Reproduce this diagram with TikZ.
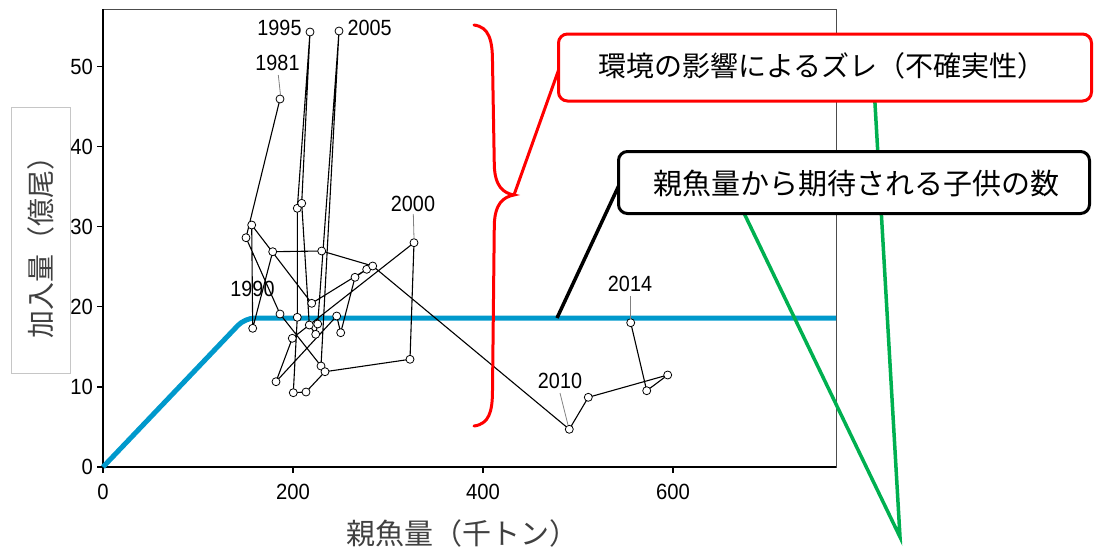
\documentclass[tikz,border=0pt]{standalone}
\usepackage{fontspec}
\setmainfont{Liberation Sans}
\newfontfamily\jpfont{Noto Sans CJK JP}
\definecolor{plotblue}{HTML}{0099CC}
\definecolor{callgreen}{HTML}{00B050}
\definecolor{labgray}{HTML}{404040}
\definecolor{callred}{HTML}{FF0000}
\begin{document}
\begin{tikzpicture}[x=1pt,y=-1pt,
  datapt/.style={circle, draw=black, fill=white, inner sep=0pt, minimum size=8pt, line width=0.8pt},
  link/.style={draw=black, line width=1.1pt, line join=round},
  leader/.style={draw=gray, line width=0.8pt},
  numlab/.style={font=\fontsize{22}{22}\selectfont, inner sep=0pt},
  jplab/.style={font=\jpfont\fontsize{28}{28}\selectfont, inner sep=0pt, text=labgray},
  callbox/.style={fill=white, line width=3pt, rounded corners=9pt},
  tickline/.style={draw=black, line width=1.2pt}]
\useasboundingbox (0,0) rectangle (1095,549);

% frame of the plot
\draw[draw=gray!60!black, line width=0.8pt] (103,9) rectangle (836,467);
\draw[black, line width=1.5pt] (103,9) -- (103,467) -- (836,467);

% ticks and tick labels
\foreach \yy/\lab in {467/0,386.9/10,306.8/20,226.7/30,146.6/40,66.5/50}{
  \draw[tickline] (97,\yy) -- (103,\yy);
  \node[numlab, anchor=east] (yt\lab) at (93,\yy) {\scalebox{0.92}[1]{\lab}};
}
\foreach \xx/\lab in {103/0,293/200,483/400,673/600}{
  \draw[tickline] (\xx,467) -- (\xx,473);
  \node[numlab] (xt\lab) at (\xx,492) {\scalebox{0.92}[1]{\lab}};
}

% axis labels
\draw[draw=gray!45, line width=0.6pt] (11,107) rectangle (70,373);
\node[jplab, rotate=90] (ylab) at (40.5,240) {加入量（億尾）};
\node[jplab, font=\jpfont\fontsize{29}{29}\selectfont] (xlab) at (462,533) {親魚量（千トン）};

% expected recruitment line
\draw[plotblue, line width=5pt, rounded corners=10pt] (103,467) -- (245,318) -- (836,318);

% data points
\coordinate (a) at (280,99);
\coordinate (b) at (251.7,225);
\coordinate (c) at (246,237.7);
\coordinate (d) at (252.7,328.3);
\coordinate (e) at (272.7,251.7);
\coordinate (f) at (321.7,251);
\coordinate (g) at (297.3,208.3);
\coordinate (h) at (301.7,203.3);
\coordinate (i) at (366.7,269.3);
\coordinate (j) at (372.7,266);
\coordinate (k) at (355,277.3);
\coordinate (l) at (414,242.7);
\coordinate (m) at (311.7,303.3);
\coordinate (n) at (280,314);
\coordinate (o) at (297.3,317.3);
\coordinate (p) at (336.7,316);
\coordinate (q) at (309.3,325);
\coordinate (r) at (317.7,324);
\coordinate (s) at (340.7,332.7);
\coordinate (t) at (315.7,334.3);
\coordinate (u) at (292.3,338.3);
\coordinate (v) at (410,359.3);
\coordinate (w) at (321,366);
\coordinate (x) at (325,371.7);
\coordinate (y) at (276,381.7);
\coordinate (z) at (293.3,392.7);
\coordinate (aa) at (306,392);
\coordinate (p95) at (310,32);
\coordinate (p05) at (339,31);
\coordinate (p10) at (569.3,429.3);
\coordinate (p11) at (588.3,397.3);
\coordinate (p12) at (667.7,375);
\coordinate (p13) at (646.7,390.7);
\coordinate (p14) at (630.7,322.7);

\draw[link] (a) -- (c) -- (n) -- (w) -- (p05) -- (r) -- (t) -- (q) -- (h) -- (p95)
  -- (g) -- (o) -- (z) -- (aa) -- (x) -- (v) -- (l) -- (u) -- (y) -- (p) -- (s)
  -- (k) -- (i) -- (m) -- (b) -- (d) -- (e) -- (f) -- (j) -- (p10) -- (p11)
  -- (p12) -- (p13) -- (p14);

\foreach \pp in {a,b,c,d,e,f,g,h,i,j,k,l,m,n,o,p,q,r,s,t,u,v,w,x,y,z,aa,p95,p05,p10,p11,p12,p13,p14}{
  \node[datapt] (dot\pp) at (\pp) {};
}

% year labels
\coordinate (l81a) at (278.3,75);  \coordinate (l81b) at (280.5,95);
\coordinate (l00a) at (413.3,214); \coordinate (l00b) at (414,238.5);
\coordinate (l10a) at (560,393);   \coordinate (l10b) at (568,425);
\coordinate (l14a) at (630.7,296); \coordinate (l14b) at (630.7,318.5);
\draw[leader] (l81a) -- (l81b);
\draw[leader] (l00a) -- (l00b);
\draw[leader] (l10a) -- (l10b);
\draw[leader] (l14a) -- (l14b);
\node[numlab] (y1981) at (277.5,63) {\scalebox{0.9}[1]{1981}};
\node[numlab] (y1995) at (279.5,28) {\scalebox{0.9}[1]{1995}};
\node[numlab] (y2005) at (369.7,28) {\scalebox{0.9}[1]{2005}};
\node[numlab] (y2000) at (413,204) {\scalebox{0.9}[1]{2000}};
\node[numlab] (y1990) at (252.5,289) {\scalebox{0.9}[1]{1990}};
\node[numlab] (y2010) at (560,381) {\scalebox{0.9}[1]{2010}};
\node[numlab] (y2014) at (630,284) {\scalebox{0.9}[1]{2014}};

% green lines
\coordinate (gtip) at (900,537);
\coordinate (gred) at (874.5,95);
\coordinate (gblk) at (742.5,210);
\draw[callgreen, line width=3.5pt, line join=miter] (gred) -- (gtip) -- (gblk);

% red brace
\coordinate (btop) at (474,25);
\coordinate (btip) at (514,195);
\coordinate (bbot) at (474,426);
\draw[callred, line width=3pt, line cap=round]
  (btop) .. controls (489,27) and (492.5,40) .. (492.5,62)
  -- (494.3,165) .. controls (494.8,186) and (503,193) .. (btip)
  .. controls (503,197) and (494.8,204) .. (494.3,225)
  -- (492.5,390) .. controls (492.5,412) and (489,424) .. (bbot);

% callout tails
\coordinate (rtail) at (560,66);
\coordinate (ktail) at (557,318);
\coordinate (kbox) at (620,183);
\draw[callred, line width=3pt] (btip) -- (rtail);
\draw[black, line width=3.5pt] (ktail) -- (kbox);

% callout boxes
\node[callbox, draw=callred, minimum width=533pt, minimum height=67pt, inner sep=0pt] (redbox) at (825,67.5) {};
\node[jplab, text=black] (redtext) at (822,66) {環境の影響によるズレ（不確実性）};
\node[callbox, draw=black, minimum width=471pt, minimum height=62pt, inner sep=0pt] (blkbox) at (854,182.5) {};
\node[jplab, text=black, font=\jpfont\fontsize{29}{29}\selectfont] (blktext) at (856,183) {親魚量から期待される子供の数};
\end{tikzpicture}
\end{document}
